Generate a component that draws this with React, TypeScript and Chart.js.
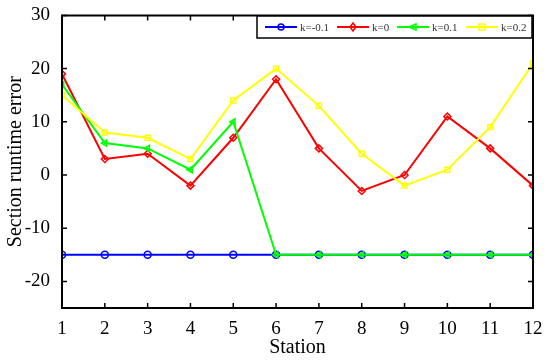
import React, { useEffect, useRef } from "react";
import { Chart, registerables } from "chart.js";

Chart.register(...registerables);

const stations = [1, 2, 3, 4, 5, 6, 7, 8, 9, 10, 11, 12];
const kNeg01 = [-15, -15, -15, -15, -15, -15, -15, -15, -15, -15, -15, -15];
const k0 = [19, 3, 4, -2, 7, 18, 5, -3, 0, 11, 5, -2];
const k01 = [17, 6, 5, 1, 10, -15, -15, -15, -15, -15, -15, -15];
const k02 = [15, 8, 7, 3, 14, 20, 13, 4, -2, 1, 9, 21];
const seriesLabels = ["k=-0.1", "k=0", "k=0.1", "k=0.2"];
const seriesColors = ["#0000ff", "#ff0000", "#00ff00", "#ffff00"];
const seriesStyles = ["circle", "rectRot", "triangle", "rect"];
const seriesRotation = [0, 0, -90, 0];
const yTicks = [-20, -10, 0, 10, 20, 30];

const FONT = "'Liberation Serif', 'Times New Roman', serif";

function drawMarker(ctx: CanvasRenderingContext2D, style: string, x: number, y: number, r: number) {
  ctx.beginPath();
  if (style === "circle") {
    ctx.arc(x, y, r, 0, Math.PI * 2);
  } else if (style === "rect") {
    ctx.rect(x - r, y - r, 2 * r, 2 * r);
  } else if (style === "rectRot") {
    ctx.moveTo(x, y - r - 1);
    ctx.lineTo(x + r, y);
    ctx.lineTo(x, y + r + 1);
    ctx.lineTo(x - r, y);
    ctx.closePath();
  } else if (style === "triangle") {
    ctx.moveTo(x - r - 1, y);
    ctx.lineTo(x + r, y - r);
    ctx.lineTo(x + r, y + r);
    ctx.closePath();
  }
  ctx.stroke();
}

const frame = {
  id: "frame",
  afterDraw(chart: any) {
    const { ctx, chartArea: a, scales } = chart;
    const xs = scales.x;
    const ys = scales.y;
    ctx.save();
    ctx.strokeStyle = "#000";
    ctx.lineWidth = 2;
    ctx.beginPath();
    ctx.rect(a.left, a.top, a.right - a.left, a.bottom - a.top);
    ctx.stroke();
    ctx.lineWidth = 1.5;
    const tl = 5;
    ctx.beginPath();
    for (const s of stations) {
      const px = xs.getPixelForValue(s);
      ctx.moveTo(px, a.bottom);
      ctx.lineTo(px, a.bottom - tl);
      ctx.moveTo(px, a.top);
      ctx.lineTo(px, a.top + tl);
    }
    for (const t of yTicks) {
      const py = ys.getPixelForValue(t);
      ctx.moveTo(a.left, py);
      ctx.lineTo(a.left + tl, py);
      ctx.moveTo(a.right, py);
      ctx.lineTo(a.right - tl, py);
    }
    ctx.stroke();

    // legend
    const bx = 257, by = 16, bh = 22;
    const bw = a.right - bx - 1;
    ctx.fillStyle = "#fff";
    ctx.fillRect(bx, by, bw, bh);
    ctx.lineWidth = 1.5;
    ctx.strokeStyle = "#000";
    ctx.strokeRect(bx, by, bw, bh);
    ctx.font = `11px ${FONT}`;
    ctx.textBaseline = "middle";
    const cy = by + bh / 2;
    const starts = [265, 337, 397, 466];
    for (let i = 0; i < seriesLabels.length; i++) {
      const x = starts[i];
      ctx.strokeStyle = seriesColors[i];
      ctx.lineWidth = 2;
      ctx.beginPath();
      ctx.moveTo(x, cy);
      ctx.lineTo(x + 32, cy);
      ctx.stroke();
      ctx.lineWidth = 1.5;
      drawMarker(ctx, seriesStyles[i], x + 16, cy, 3);
      ctx.fillStyle = "#333";
      ctx.fillText(seriesLabels[i], x + 35, cy + 1);
    }
    ctx.restore();
  },
};

export default function App() {
  const ref = useRef<HTMLCanvasElement>(null);
  useEffect(() => {
    document.body.style.margin = "0";
    const seriesData = [kNeg01, k0, k01, k02];
    const chart = new Chart(ref.current!, {
      type: "line",
      data: {
        datasets: seriesData.map((d, i) => ({
          label: seriesLabels[i],
          data: d.map((v, j) => ({ x: stations[j], y: v })),
          borderColor: seriesColors[i],
          backgroundColor: "transparent",
          borderWidth: 2,
          pointStyle: seriesStyles[i] as any,
          rotation: seriesRotation[i],
          pointRadius: 3.5,
          pointBorderWidth: 1.5,
          pointBackgroundColor: "transparent",
          pointBorderColor: seriesColors[i],
          order: 4 - i,
          tension: 0,
        })),
      },
      options: {
        animation: false,
        responsive: false,
        maintainAspectRatio: false,
        layout: { padding: { top: 15, right: 17, left: 0, bottom: 0 } },
        plugins: { legend: { display: false }, tooltip: { enabled: false } },
        scales: {
          x: {
            type: "linear",
            min: 1,
            max: 12,
            grid: { display: false },
            border: { display: false },
            ticks: {
              stepSize: 1,
              padding: 2,
              color: "#000",
              font: { family: FONT, size: 19 },
              autoSkip: false,
              maxRotation: 0,
            },
            title: {
              display: true,
              text: "Station",
              color: "#000",
              font: { family: FONT, size: 20 },
              padding: { top: 0, bottom: 1 },
            },
            afterFit: (s: any) => {
              s.height = 53;
            },
          },
          y: {
            min: -25,
            max: 30,
            grid: { display: false },
            border: { display: false },
            afterBuildTicks: (s: any) => {
              s.ticks = yTicks.map((v) => ({ value: v }));
            },
            ticks: {
              padding: 4,
              color: "#000",
              font: { family: FONT, size: 19 },
            },
            title: {
              display: true,
              text: "Section runtime error",
              color: "#000",
              font: { family: FONT, size: 20 },
              padding: { top: 4, bottom: 0 },
            },
            afterFit: (s: any) => {
              s.width = 62;
            },
          },
        },
      },
      plugins: [frame],
    });
    return () => chart.destroy();
  }, []);
  return (
    <div style={{ position: "absolute", left: 0, top: 0, width: 550, height: 361 }}>
      <canvas ref={ref} width={550} height={361} />
    </div>
  );
}
